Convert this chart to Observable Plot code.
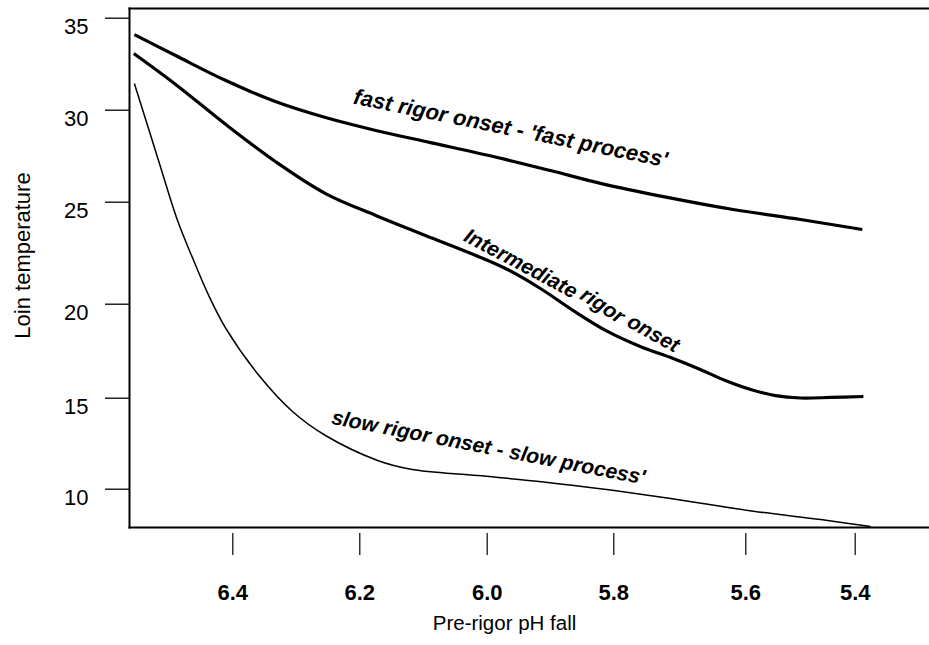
<!DOCTYPE html>
<html>
<head>
<meta charset="utf-8">
<script src="https://cdn.jsdelivr.net/npm/d3@7"></script>
<script src="https://cdn.jsdelivr.net/npm/@observablehq/plot@0.6"></script>
<style>
  html, body { margin: 0; padding: 0; background: #fff; }
  #chart svg { display: block; }
</style>
</head>
<body>
<div id="chart"></div>
<script>
// ---- tick labels ----
const xTicks = [6.4, 6.2, 6.0, 5.8, 5.6, 5.4];
const yTicks = [35, 30, 25, 20, 15, 10];

// ---- series values (pH, loin temperature) ----
const fastPH   = [6.555, 6.490, 6.411, 6.333, 6.254, 6.175, 6.089, 5.984, 5.900, 5.821, 5.719, 5.619, 5.500, 5.387];
const fastTemp = [34.11, 32.97, 31.61, 30.47, 29.60, 28.90, 28.24, 27.43, 26.72, 26.02, 25.26, 24.64, 24.15, 23.66];

const interPH   = [6.556, 6.490, 6.411, 6.333, 6.254, 6.175, 6.097, 6.018, 5.968, 5.916, 5.864, 5.810, 5.760, 5.710, 5.669, 5.631, 5.591, 5.546, 5.500, 5.445, 5.385];
const interTemp = [33.08, 31.40, 29.22, 27.21, 25.47, 24.35, 23.37, 22.39, 21.70, 20.77, 19.66, 18.55, 17.75, 17.11, 16.53, 15.94, 15.46, 15.14, 15.01, 15.04, 15.09];

const slowPH   = [6.555, 6.517, 6.487, 6.463, 6.438, 6.411, 6.360, 6.306, 6.254, 6.172, 6.120, 6.015, 5.911, 5.805, 5.714, 5.586, 5.463, 5.372];
const slowTemp = [31.45, 27.27, 24.10, 22.24, 20.43, 18.71, 16.26, 14.27, 12.95, 11.58, 11.10, 10.75, 10.40, 9.95, 9.49, 8.79, 8.33, 7.95];

// ---- annotations ----
const noteText  = ["fast rigor onset - 'fast process'", "Intermediate", "rigor", "onset", "slow rigor onset - slow process'"];
const notePH    = [5.963, 5.947, 5.818, 5.740, 5.998];
const noteTemp  = [29.01, 21.99, 19.93, 18.44, 12.29];

// ---- titles ----
const xTitle = "Pre-rigor pH fall";
const yTitle = "Loin temperature";

// ---- layout / style config ----
const noteAngle = [11.5, 28, 33, 29, 11];
const noteSize  = [22, 21, 21, 21, 21];
// the printed axes are not evenly spaced: piecewise-linear position scales
const xPiecewise = d3.scaleLinear().domain(xTicks).range([232.3, 359.3, 486.7, 613.3, 745.3, 854.7]);
const yPiecewise = d3.scaleLinear().domain(yTicks).range([17.7, 109.7, 201.7, 303.7, 397.7, 488.7]);

const series = [
  {name: "fast", ph: fastPH, temp: fastTemp, width: 3.2},
  {name: "intermediate", ph: interPH, temp: interTemp, width: 3.2},
  {name: "slow", ph: slowPH, temp: slowTemp, width: 1.5}
];
const rows = series.flatMap(s => s.ph.map((p, i) => ({series: s.name, ph: p, temp: s.temp[i]})));
const notes = noteText.map((t, i) => ({text: t, ph: notePH[i], temp: noteTemp[i], angle: noteAngle[i], size: noteSize[i]}));

const fmt = d3.format(".1f");

const chart = Plot.plot({
  width: 929,
  height: 645,
  marginLeft: 129,
  marginRight: 0,
  marginTop: 8,
  marginBottom: 118,
  style: {fontFamily: "'Liberation Sans', Arial, Helvetica, sans-serif", background: "#fff", color: "#000"},
  x: {transform: d => xPiecewise(d), domain: [129, 929], axis: null},
  y: {transform: d => yPiecewise(d), domain: [527, 8], axis: null},
  marks: [
    Plot.frame({anchor: "top", strokeWidth: 2}),
    Plot.frame({anchor: "left", strokeWidth: 2}),
    Plot.frame({anchor: "bottom", strokeWidth: 2}),
    // y ticks (outside the frame, to the left) and labels
    Plot.ruleY(yTicks, {y: d => d, insetLeft: -24, insetRight: 800, stroke: "#000", strokeWidth: 1.3}),
    Plot.text(yTicks, {y: d => d, text: d => String(d), frameAnchor: "left", textAnchor: "end", lineAnchor: "middle", dx: -41, dy: 9, fontSize: 22}),
    // x ticks (detached below the frame) and labels
    Plot.ruleX(xTicks, {x: d => d, insetTop: 525, insetBottom: -28, stroke: "#000", strokeWidth: 1.2}),
    Plot.text(xTicks, {x: d => d, text: d => fmt(d), frameAnchor: "bottom", textAnchor: "middle", lineAnchor: "top", dy: 57, fontSize: 22, fontWeight: "bold"}),
    // titles
    Plot.text([xTitle], {text: d => d, frameAnchor: "bottom", textAnchor: "middle", lineAnchor: "middle", dx: -25, dy: 96, fontSize: 20.5}),
    Plot.text([yTitle], {text: d => d, frameAnchor: "left", textAnchor: "middle", lineAnchor: "middle", dx: -107, dy: -12.5, rotate: -90, fontSize: 22}),
    // curves
    ...series.map(s => Plot.line(rows.filter(r => r.series === s.name), {
      x: "ph", y: "temp", curve: "catmull-rom", stroke: "#000", strokeWidth: s.width, strokeLinecap: "butt"
    })),
    // annotations
    Plot.text(notes, {x: "ph", y: "temp", text: "text", rotate: "angle", fontSize: "size", fontWeight: "bold", fontStyle: "italic", fill: "#000"})
  ]
});
document.getElementById("chart").appendChild(chart);
</script>
</body>
</html>
